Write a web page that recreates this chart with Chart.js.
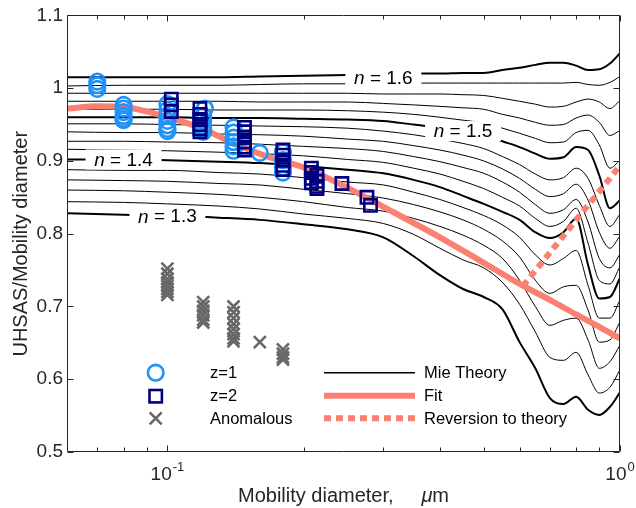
<!DOCTYPE html>
<html><head><meta charset="utf-8">
<script src="https://cdn.jsdelivr.net/npm/chart.js@4.4.0/dist/chart.umd.min.js"></script>
<style>html,body{margin:0;padding:0;background:#fff;}</style>
</head><body>
<canvas id="c" width="636" height="508"></canvas>
<script>
// ---------- data ----------
const diameter = [0.06,0.08,0.1,0.13,0.16,0.2,0.25,0.3,0.35,0.4,0.45,0.5,0.55,0.6,0.65,0.7,0.75,0.8,0.85,0.9,0.95,1.0];
const mie160 = [1.015,1.015,1.015,1.015,1.016,1.017,1.018,1.019,1.020,1.020,1.021,1.021,1.025,1.028,1.032,1.035,1.035,1.031,1.025,1.026,1.034,1.048];
const mie158 = [1.003,1.004,1.004,1.004,1.005,1.006,1.006,1.007,1.007,1.007,1.007,1.007,1.007,1.007,1.007,1.007,1.007,1.008,1.005,1.004,1.008,1.016];
const mie156 = [0.993,0.993,0.993,0.993,0.993,0.993,0.993,0.992,0.992,0.992,0.991,0.990,0.986,0.982,0.978,0.974,0.975,0.981,0.985,0.981,0.972,0.983];
const mie154 = [0.982,0.982,0.982,0.982,0.981,0.981,0.981,0.979,0.977,0.975,0.973,0.971,0.964,0.959,0.953,0.949,0.950,0.959,0.963,0.953,0.935,0.942];
const mie152 = [0.971,0.971,0.971,0.970,0.970,0.970,0.969,0.967,0.964,0.960,0.956,0.952,0.945,0.938,0.931,0.925,0.926,0.939,0.942,0.922,0.890,0.901];
const mie150 = [0.960,0.960,0.960,0.959,0.959,0.958,0.957,0.955,0.950,0.946,0.941,0.936,0.927,0.919,0.910,0.903,0.905,0.919,0.915,0.880,0.835,0.846];
const mie148 = [0.951,0.951,0.950,0.949,0.948,0.947,0.945,0.941,0.936,0.930,0.924,0.917,0.906,0.895,0.882,0.874,0.877,0.890,0.876,0.839,0.810,0.827];
const mie146 = [0.940,0.939,0.939,0.937,0.936,0.934,0.930,0.927,0.921,0.915,0.908,0.900,0.889,0.876,0.861,0.851,0.855,0.868,0.846,0.802,0.780,0.797];
const mie144 = [0.927,0.927,0.926,0.925,0.923,0.920,0.917,0.913,0.906,0.899,0.891,0.883,0.871,0.857,0.840,0.828,0.833,0.847,0.816,0.766,0.753,0.772];
const mie142 = [0.916,0.915,0.914,0.912,0.910,0.907,0.902,0.898,0.890,0.882,0.872,0.862,0.850,0.838,0.821,0.810,0.817,0.835,0.787,0.736,0.731,0.755];
const mie140 = [0.902,0.902,0.901,0.899,0.897,0.893,0.888,0.883,0.874,0.864,0.852,0.841,0.830,0.819,0.802,0.794,0.802,0.821,0.757,0.711,0.713,0.739];
const mie138 = [0.888,0.887,0.887,0.884,0.882,0.877,0.871,0.867,0.857,0.847,0.836,0.825,0.812,0.795,0.771,0.757,0.766,0.777,0.729,0.684,0.684,0.709];
const mie136 = [0.874,0.873,0.872,0.869,0.867,0.861,0.855,0.849,0.840,0.830,0.819,0.806,0.790,0.768,0.736,0.718,0.727,0.729,0.695,0.651,0.654,0.679];
const mie134 = [0.860,0.859,0.857,0.854,0.850,0.844,0.836,0.831,0.821,0.810,0.798,0.784,0.766,0.736,0.700,0.674,0.681,0.684,0.654,0.615,0.624,0.647];
const mie132 = [0.844,0.843,0.841,0.838,0.834,0.827,0.821,0.814,0.799,0.780,0.764,0.753,0.733,0.703,0.665,0.630,0.626,0.637,0.606,0.581,0.589,0.613];
const mie130 = [0.828,0.826,0.825,0.822,0.819,0.813,0.806,0.795,0.769,0.743,0.724,0.713,0.696,0.651,0.615,0.574,0.566,0.576,0.558,0.551,0.562,0.582];

const fitDiameter = [0.06,0.07,0.08,0.09,0.1,0.12,0.14,0.17,0.2,0.25,0.3,0.4,0.5,0.6,0.7,0.8,0.9,1.0];
const fitRatio    = [0.972,0.975,0.974,0.968,0.960,0.944,0.924,0.904,0.891,0.863,0.837,0.795,0.760,0.731,0.709,0.689,0.672,0.656];

const revDiameter = [0.61,0.65,0.7,0.75,0.8,0.85,0.9,0.95,1.0];
const revRatio    = [0.728,0.749,0.774,0.797,0.819,0.839,0.858,0.876,0.894];

const z1Diameter = [0.07,0.07,0.07, 0.08,0.08,0.08,0.08,0.08,0.08, 0.1,0.1,0.1,0.1,0.1,0.1,0.1, 0.121, 0.12,0.12,0.12,0.12,0.12, 0.14,0.14,0.14,0.14,0.14,0.14, 0.16, 0.18,0.18,0.18,0.18];
const z1Ratio    = [1.009,1.004,0.999, 0.977,0.972,0.967,0.962,0.958,0.956, 0.978,0.970,0.962,0.955,0.949,0.944,0.941, 0.972, 0.962,0.955,0.948,0.943,0.940, 0.946,0.939,0.932,0.926,0.920,0.914, 0.911, 0.912,0.901,0.891,0.884];

const z2Diameter = [0.102,0.102,0.102, 0.118,0.118,0.118,0.118,0.118,0.118, 0.148,0.148,0.148,0.148,0.148,0.148, 0.18,0.18,0.18,0.18,0.18, 0.208,0.208,0.208,0.208, 0.214,0.214,0.214,0.214, 0.243, 0.276, 0.281];
const z2Ratio    = [0.985,0.977,0.968, 0.972,0.964,0.957,0.950,0.944,0.940, 0.946,0.940,0.933,0.926,0.919,0.915, 0.915,0.908,0.901,0.894,0.888, 0.890,0.884,0.876,0.870, 0.880,0.872,0.865,0.862, 0.869, 0.850, 0.839];

const anomDiameter = [0.1,0.1,0.1,0.1,0.1,0.1,0.1,0.1, 0.12,0.12,0.12,0.12,0.12,0.12, 0.14,0.14,0.14,0.14,0.14,0.14,0.14,0.14, 0.16, 0.18,0.18,0.18,0.18];
const anomRatio    = [0.752,0.745,0.738,0.733,0.728,0.724,0.720,0.716, 0.706,0.700,0.694,0.688,0.682,0.678, 0.700,0.692,0.684,0.676,0.669,0.662,0.656,0.652, 0.651, 0.641,0.635,0.630,0.627];

const yTicks = [0.5,0.6,0.7,0.8,0.9,1.0,1.1];
const xMajorTicks = [0.1,1];
const xMajorLabels = [['10','-1'],['10','0']];
const xMinorTicks = [0.07,0.08,0.09,0.2,0.3,0.4,0.5,0.6,0.7,0.8,0.9];
const yTitle = 'UHSAS/Mobility diameter';
const xTitleParts = ['Mobility diameter,     ', '\u03bc', 'm'];

const contourLabels = [
  {text:'1.6', x:0.30, y:1.0145},
  {text:'1.5', x:0.45, y:0.941},
  {text:'1.4', x:0.08, y:0.902},
  {text:'1.3', x:0.10, y:0.824}
];

// ---------- styling ----------
const FONT = '"Liberation Sans", Arial, Helvetica, sans-serif';
const AX = '#262626';
const BLUE = 'rgb(30,148,250)';
const NAVY = '#00007f';
const GRAY = '#686868';
const SALMON = '#fa8072';

const pts = (xs, ys) => xs.map((x, i) => ({x, y: ys[i]}));

const mieList = [
  [mie160,true],[mie158,false],[mie156,false],[mie154,false],[mie152,false],
  [mie150,true],[mie148,false],[mie146,false],[mie144,false],[mie142,false],
  [mie140,true],[mie138,false],[mie136,false],[mie134,false],[mie132,false],[mie130,true]
];

const datasets = mieList.map(([arr, thick], i) => ({
  label: 'Mie' + i, data: pts(diameter, arr), showLine: true,
  borderColor: '#000', borderWidth: thick ? 2 : 1, pointRadius: 0,
  cubicInterpolationMode: 'monotone', fill: false, order: 10
}));
datasets.push({label:'Fit', data: pts(fitDiameter, fitRatio), showLine:true, borderColor:SALMON,
  borderWidth:6, pointRadius:0, cubicInterpolationMode:'monotone', order:6});
datasets.push({label:'Reversion', data: pts(revDiameter, revRatio), showLine:true, borderColor:SALMON,
  borderWidth:6, borderDash:[7,5], borderCapStyle:'butt', pointRadius:0, tension:0, order:5});
datasets.push({label:'Anomalous', data: pts(anomDiameter, anomRatio), showLine:false,
  pointStyle:'crossRot', pointRadius:8.5, pointBorderColor:GRAY, pointBorderWidth:2.6,
  pointBackgroundColor:'rgba(0,0,0,0)', order:3});
datasets.push({label:'z=1', data: pts(z1Diameter, z1Ratio), showLine:false,
  pointStyle:'circle', pointRadius:7.8, pointBorderColor:BLUE, pointBorderWidth:2.6,
  pointBackgroundColor:'rgba(0,0,0,0)', order:2});
datasets.push({label:'z=2', data: pts(z2Diameter, z2Ratio), showLine:false,
  pointStyle:'rect', pointRadius:8.7, pointBorderColor:NAVY, pointBorderWidth:2.6,
  pointBackgroundColor:'rgba(0,0,0,0)', order:1});

function drawContourLabels(chart){
  const {ctx, scales:{x, y}} = chart;
  ctx.save();
  const fN = 'italic 19px ' + FONT, fT = '19px ' + FONT;
  contourLabels.forEach(l => {
    const cx = x.getPixelForValue(l.x), cy = y.getPixelForValue(l.y);
    ctx.font = fN; const wn = ctx.measureText('n').width;
    ctx.font = fT; const wt = ctx.measureText(' = ' + l.text).width;
    const w = wn + wt;
    ctx.fillStyle = '#fff';
    ctx.fillRect(cx - 38, cy - 10, 76, 20);
    ctx.fillStyle = '#000'; ctx.textBaseline = 'middle'; ctx.textAlign = 'left';
    ctx.font = fN; ctx.fillText('n', cx - w/2, cy + 1);
    ctx.font = fT; ctx.fillText(' = ' + l.text, cx - w/2 + wn, cy + 1);
  });
  ctx.restore();
}

function drawFrame(chart){
  const {ctx, chartArea:a, scales:{x, y}} = chart;
  ctx.save();
  ctx.strokeStyle = AX; ctx.lineWidth = 1;
  const L = Math.round(a.left) + 0.5, R = Math.round(a.right) - 0.5;
  const T = Math.round(a.top) + 0.5, B = Math.round(a.bottom) - 0.5;
  ctx.beginPath();
  ctx.rect(L, T, R - L, B - T);
  yTicks.forEach(v => {
    const py = Math.round(y.getPixelForValue(v)) + 0.5;
    ctx.moveTo(L, py); ctx.lineTo(L + 6, py);
    ctx.moveTo(R, py); ctx.lineTo(R - 6, py);
  });
  const xt = (v, len) => {
    const px = Math.round(x.getPixelForValue(v)) + 0.5;
    ctx.moveTo(px, B); ctx.lineTo(px, B - len);
    ctx.moveTo(px, T); ctx.lineTo(px, T + len);
  };
  xMajorTicks.forEach(v => xt(v, 6));
  xMinorTicks.forEach(v => xt(v, 4));
  ctx.stroke();
  // x tick labels with exponents
  ctx.fillStyle = AX; ctx.textBaseline = 'alphabetic'; ctx.textAlign = 'left';
  xMajorTicks.forEach((v, i) => {
    const [base, exp] = xMajorLabels[i];
    ctx.font = '19px ' + FONT; const wb = ctx.measureText(base).width;
    ctx.font = '13px ' + FONT; const we = ctx.measureText(exp).width;
    const px = x.getPixelForValue(v);
    const sx = px - (wb + we + 1) / 2;
    ctx.font = '19px ' + FONT; ctx.fillText(base, sx, 480);
    ctx.font = '13px ' + FONT; ctx.fillText(exp, sx + wb + 1, 471);
  });
  // x axis title (italic mu)
  const fR = '20px ' + FONT, fI = 'italic 20px ' + FONT;
  ctx.font = fR; const w0 = ctx.measureText(xTitleParts[0]).width;
  ctx.font = fI; const w1 = ctx.measureText(xTitleParts[1]).width;
  ctx.font = fR; const w2 = ctx.measureText(xTitleParts[2]).width;
  let tx = (a.left + a.right) / 2 - (w0 + w1 + w2) / 2;
  ctx.textBaseline = 'middle';
  ctx.font = fR; ctx.fillText(xTitleParts[0], tx, 496); tx += w0;
  ctx.font = fI; ctx.fillText(xTitleParts[1], tx, 496); tx += w1;
  ctx.font = fR; ctx.fillText(xTitleParts[2], tx, 496);
  // y axis title
  ctx.save();
  ctx.translate(21, (a.top + a.bottom) / 2 + 10);
  ctx.rotate(-Math.PI / 2);
  ctx.font = fR; ctx.textAlign = 'center'; ctx.textBaseline = 'middle';
  ctx.fillText(yTitle, 0, 0);
  ctx.restore();
  ctx.restore();
}

function drawLegend(chart){
  const ctx = chart.ctx;
  ctx.save();
  ctx.lineWidth = 2.6;
  ctx.strokeStyle = BLUE; ctx.beginPath(); ctx.arc(155.7, 372.7, 7.8, 0, Math.PI*2); ctx.stroke();
  ctx.strokeStyle = NAVY; ctx.strokeRect(149.5, 390, 12.4, 12.4);
  ctx.strokeStyle = GRAY; ctx.beginPath();
  ctx.moveTo(149.7, 412.3); ctx.lineTo(161.7, 424.3); ctx.moveTo(161.7, 412.3); ctx.lineTo(149.7, 424.3); ctx.stroke();
  ctx.strokeStyle = '#000'; ctx.lineWidth = 1.5; ctx.beginPath(); ctx.moveTo(324, 372.7); ctx.lineTo(415, 372.7); ctx.stroke();
  ctx.strokeStyle = SALMON; ctx.lineWidth = 6; ctx.beginPath(); ctx.moveTo(324, 395.7); ctx.lineTo(415, 395.7); ctx.stroke();
  ctx.setLineDash([7,5]); ctx.lineCap = 'butt'; ctx.beginPath(); ctx.moveTo(324, 418.3); ctx.lineTo(415, 418.3); ctx.stroke();
  ctx.setLineDash([]);
  ctx.fillStyle = '#000'; ctx.font = '16.5px ' + FONT; ctx.textBaseline = 'middle'; ctx.textAlign = 'left';
  ctx.fillText('z=1', 210, 373.5); ctx.fillText('z=2', 210, 396.5); ctx.fillText('Anomalous', 210, 419);
  ctx.fillText('Mie Theory', 424, 373.5); ctx.fillText('Fit', 424, 396.5); ctx.fillText('Reversion to theory', 424, 419);
  ctx.restore();
}

const decor = {
  id: 'decor',
  beforeDatasetDraw(chart, args){
    if (chart.data.datasets[args.index].label === 'Fit') drawContourLabels(chart);
  },
  afterDraw(chart){ drawFrame(chart); drawLegend(chart); }
};

new Chart(document.getElementById('c'), {
  type: 'scatter',
  data: { datasets },
  plugins: [decor],
  options: {
    responsive: false, animation: false, devicePixelRatio: 1,
    layout: { padding: { left: 0, right: 16, top: 15, bottom: 0 } },
    plugins: { legend: { display: false }, tooltip: { enabled: false } },
    scales: {
      x: {
        type: 'logarithmic', min: 0.06, max: 1,
        grid: { display: false, drawTicks: false }, border: { display: false },
        ticks: { display: false },
        title: { display: false },
        afterFit: s => { s.height = 56; }
      },
      y: {
        min: 0.5, max: 1.1,
        grid: { display: false, drawTicks: false }, border: { display: false },
        ticks: { stepSize: 0.1, padding: 4, color: AX, font: { family: FONT, size: 19 },
                 callback: v => { const r = Math.round(v * 10) / 10; return r === 1 ? '1' : r.toFixed(1); } },
        title: { display: false },
        afterFit: s => { s.width = 67; }
      }
    }
  }
});
</script>
</body></html>
